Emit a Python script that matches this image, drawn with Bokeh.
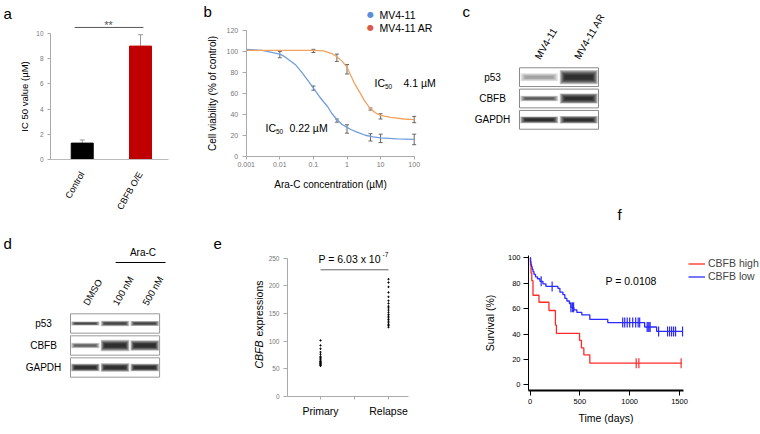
import math
from bokeh.plotting import figure
from bokeh.layouts import row, column
from bokeh.models import (Label, Whisker, TeeHead, ColumnDataSource, FixedTicker,
                          Legend, LegendItem, Range1d)
from bokeh.embed import file_html
from bokeh.resources import INLINE
from bokeh.core.properties import value

FONT = "Liberation Sans"

# ---------------- data ----------------
# a: IC50 bar chart
a_groups = ["Control", "CBFB O/E"]
a_ic50 = [1.3, 9.0]
a_err = [0.25, 0.9]
a_colors = ["#000000", "#c00000"]
a_yticks = [0, 2, 4, 6, 8, 10]

# b: dose response
b_xticks = [0.001, 0.01, 0.1, 1, 10, 100]
b_xtick_labels = ["0.001", "0.01", "0.1", "1", "10", "100"]
b_yticks = [0, 20, 40, 60, 80, 100, 120]
blue_conc = [0.01, 0.1, 0.5, 1, 5, 10, 100]
blue_via = [97, 65, 34, 26, 18, 17, 16]
blue_sd = [3, 2, 1.5, 4, 3.5, 4, 5]
orange_conc = [0.1, 0.5, 1, 5, 10, 100]
orange_via = [100.5, 94, 83, 45, 38, 35]
orange_sd = [1.5, 3.5, 4.5, 1, 2.5, 3]
blue_fit_x = [0.001, 0.003, 0.01, 0.014, 0.03, 0.043, 0.07, 0.1, 0.15, 0.2, 0.27, 0.35, 0.5, 0.7, 1, 1.3, 2, 3.5, 6, 10, 30, 100]
blue_fit_y = [102, 101, 97.5, 95, 87, 81, 72, 65, 57, 52, 47, 41, 35, 30.5, 27.5, 25.5, 23, 20, 18.5, 17.5, 16.5, 16]
orange_fit_x = [0.001, 0.01, 0.1, 0.2, 0.35, 0.5, 0.7, 1, 1.3, 1.7, 2.5, 3.3, 4.3, 5.5, 7, 10, 20, 50, 100]
orange_fit_y = [101, 101, 101, 100.5, 98, 95, 91, 85, 77, 69, 60, 53, 48, 44, 41.5, 39, 37, 35.5, 35]

# c: western blot (band intensity, band thickness per lane)
c_lanes = ["MV4-11", "MV4-11 AR"]
c_rows = ["p53", "CBFB", "GAPDH"]
c_p53 = [0.3, 1.0]
c_cbfb = [0.65, 1.0]
c_gapdh = [1.0, 1.0]
c_p53_w = [0.24, 0.42]
c_cbfb_w = [0.16, 0.3]
c_gapdh_w = [0.2, 0.22]

# d: western blot
d_lanes = ["DMSO", "100 nM", "500 nM"]
d_rows = ["p53", "CBFB", "GAPDH"]
d_p53 = [0.75, 0.8, 0.8]
d_cbfb = [0.6, 1.0, 1.0]
d_gapdh = [1.0, 1.0, 1.0]
d_p53_w = [0.12, 0.15, 0.14]
d_cbfb_w = [0.15, 0.32, 0.3]
d_gapdh_w = [0.22, 0.24, 0.22]

# e: expression
e_groups = ["Primary", "Relapse"]
e_primary = [101, 92, 86, 80, 76, 72, 70, 68, 66, 64, 63, 62, 61, 60, 59, 58, 57, 56, 55]
e_relapse = [212, 206, 198, 188, 180, 173, 168, 163, 160, 156, 152, 148, 145, 142, 139, 136, 133, 130, 128, 125]
e_yticks = [0, 50, 100, 150, 200, 250]

# f: Kaplan-Meier
red_t = [0, 5, 10, 18, 30, 90, 190, 255, 265, 497, 516, 540, 600, 1520]
red_s = [100, 94, 88, 82, 70.5, 65, 58.5, 47, 40.5, 35, 29, 23.5, 17, 17]
red_censor = [1065, 1092, 1516]
blue_t = [0, 5, 10, 15, 22, 30, 40, 55, 75, 100, 130, 160, 280, 300, 330, 350, 370, 395, 410, 440, 470, 520, 600, 780, 1150, 1270, 1530]
blue_s = [100, 97, 95, 93, 91, 89, 87, 85, 83.5, 81.5, 79.5, 77.5, 76, 73, 71, 68, 66, 64, 61, 59, 57, 55, 51.5, 49, 45.5, 42, 42]
blue_censor = [112, 222, 410, 425, 437, 930, 950, 975, 1000, 1030, 1060, 1085, 1100, 1175, 1185, 1195, 1205, 1290, 1380, 1400, 1420, 1440, 1460, 1530]
f_xticks = [0, 500, 1000, 1500]
f_yticks = [0, 20, 40, 60, 80, 100]


# ---------------- helpers ----------------
def make_fig(W, H, xr, yr, **kw):
    p = figure(width=W, height=H, x_range=xr, y_range=yr, toolbar_location=None,
               output_backend="svg", min_border=0, min_border_left=0, min_border_right=0,
               min_border_top=0, min_border_bottom=0, **kw)
    p.outline_line_color = None
    p.grid.visible = False
    p.background_fill_color = "white"
    p.border_fill_color = "white"
    return p


def slabel(p, geo, sx, sy, text, size, color="black", align="left", baseline="middle",
           angle=0.0, font=FONT, style="normal"):
    X0, Y0, W, H = geo
    p.add_layout(Label(x=sx - X0, y=(Y0 + H) - sy, x_units="screen", y_units="screen", text=text,
                       text_font=font, text_font_size=f"{size}px", text_color=color,
                       text_align=align, text_baseline=baseline, angle=angle,
                       text_font_style=style))


def style_axis(ax, line="#aaaaaa", label_color="#777777", size=7, out=3, standoff=3):
    ax.axis_line_color = line
    ax.major_tick_line_color = line
    ax.minor_tick_line_color = None
    ax.major_tick_out = out
    ax.major_tick_in = 0
    ax.major_label_text_font = FONT
    ax.major_label_text_font_size = f"{size}px"
    ax.major_label_text_color = label_color
    ax.major_label_standoff = standoff
    ax.axis_label_text_font = FONT
    ax.axis_label_text_font_style = "normal"
    ax.axis_label_text_color = "black"


def step_at(ts, ss, t):
    v = ss[0]
    for ti, si in zip(ts, ss):
        if ti <= t:
            v = si
    return v


# ---------------- panel a ----------------
geo_a = (0, 0, 190, 225)
ax0 = -0.044
pa = make_fig(190, 225, Range1d(ax0 - 50 / 58.3, ax0 + 140 / 58.3), Range1d(-66 / 12.6, 159 / 12.6))
xa = [i + 0.5 for i in range(len(a_groups))]
pa.vbar(x=xa, top=a_ic50, width=0.377, fill_color=a_colors, line_color=a_colors)
src_a = ColumnDataSource(dict(x=xa, lo=a_ic50, hi=[v + e for v, e in zip(a_ic50, a_err)]))
pa.add_layout(Whisker(source=src_a, base="x", lower="lo", upper="hi", line_color="#999999",
                      lower_head=None, upper_head=TeeHead(size=5, line_color="#999999")))
pa.line([0.37, 1.55], [10.48, 10.48], line_color="#555555", line_width=1)
style_axis(pa.yaxis[0], size=6.5, out=3, standoff=4)
pa.yaxis.ticker = FixedTicker(ticks=a_yticks)
pa.yaxis.bounds = (0, 10)
pa.yaxis.fixed_location = ax0
pa.yaxis.axis_label = "IC 50 value (µM)"
pa.yaxis.axis_label_text_font_size = "9.5px"
pa.yaxis.axis_label_standoff = 3
style_axis(pa.xaxis[0], line="#bbbbbb", label_color="black", size=9, out=0, standoff=13)
pa.xaxis.major_tick_line_color = None
pa.xaxis.ticker = FixedTicker(ticks=xa)
pa.xaxis.bounds = (ax0, ax0 + 118 / 58.3)
pa.xaxis.fixed_location = 0
pa.xaxis.major_label_overrides = {x: g for x, g in zip(xa, a_groups)}
pa.xaxis.major_label_orientation = math.pi / 3
slabel(pa, geo_a, 3, 13, "a", 15)
slabel(pa, geo_a, 108, 24, "**", 11, color="#555555", align="center")

# ---------------- panel b ----------------
geo_b = (190, 0, 250, 225)
bx0 = 245.7
bpd = 33.6
bpy = 125.7 / 120
pb = make_fig(250, 225, Range1d(10 ** (-3 - (bx0 - 190) / bpd), 10 ** (-3 + (440 - bx0) / bpd)),
              Range1d(-(225 - 155.7) / bpy, 155.7 / bpy), x_axis_type="log")
pb.line(blue_fit_x, blue_fit_y, line_color="#6f9edb", line_width=1.3)
pb.line(orange_fit_x, orange_fit_y, line_color="#f2a25e", line_width=1.3)
for xs, ys, es in ((blue_conc, blue_via, blue_sd), (orange_conc, orange_via, orange_sd)):
    s = ColumnDataSource(dict(x=xs, lo=[y - e for y, e in zip(ys, es)], hi=[y + e for y, e in zip(ys, es)]))
    pb.add_layout(Whisker(source=s, base="x", lower="lo", upper="hi", line_color="#666666", line_width=1,
                          lower_head=TeeHead(size=4, line_color="#666666"),
                          upper_head=TeeHead(size=4, line_color="#666666")))
style_axis(pb.xaxis[0], size=7, out=3, standoff=3)
pb.xaxis.ticker = FixedTicker(ticks=b_xticks)
pb.xaxis.major_label_overrides = {t: l for t, l in zip(b_xticks, b_xtick_labels)}
pb.xaxis.bounds = (b_xticks[0], b_xticks[-1])
pb.xaxis.fixed_location = 0
pb.xaxis.axis_label = "Ara-C concentration (µM)"
pb.xaxis.axis_label_text_font_size = "10px"
pb.xaxis.axis_label_standoff = 8
style_axis(pb.yaxis[0], size=7, out=4, standoff=4)
pb.yaxis.ticker = FixedTicker(ticks=b_yticks)
pb.yaxis.bounds = (0, 120)
pb.yaxis.fixed_location = b_xticks[0]
pb.yaxis.axis_label = "Cell viability (% of control)"
pb.yaxis.axis_label_text_font_size = "10px"
pb.yaxis.axis_label_standoff = 6
slabel(pb, geo_b, 203, 11, "b", 15)
slabel(pb, geo_b, 370, 14, "●", 8, color="#5b8ed6", align="center", font="DejaVu Sans")
slabel(pb, geo_b, 370, 27, "●", 8, color="#d9594c", align="center", font="DejaVu Sans")
slabel(pb, geo_b, 379, 14, "MV4-11", 10.5)
slabel(pb, geo_b, 379, 27, "MV4-11 AR", 10.5)
slabel(pb, geo_b, 374, 82, "IC", 10.5)
slabel(pb, geo_b, 384.5, 86, "50", 6.5)
slabel(pb, geo_b, 403, 82, "4.1 µM", 10.5)
slabel(pb, geo_b, 265, 127, "IC", 10.5)
slabel(pb, geo_b, 275.5, 131, "50", 6.5)
slabel(pb, geo_b, 289, 127, "0.22 µM", 10.5)


# ---------------- blots ----------------
def draw_blot(p, n_lanes, rows_int, rows_w, row_h=0.88, line_color="#8a8a8a"):
    n_rows = len(rows_int)
    nl = 6
    for i in range(n_rows):
        yc = n_rows - 0.5 - i
        p.rect(x=n_lanes / 2, y=yc, width=n_lanes, height=row_h, fill_color="white",
               line_color=line_color, line_width=1)
        for l in range(n_lanes):
            I = rows_int[i][l]
            t = rows_w[i][l]
            ws = [0.96 - 0.05 * k for k in range(nl)]
            hs = [t * (1.6 - 0.22 * k) for k in range(nl)]
            al = [0.24 * I] * nl
            p.rect(x=[l + 0.5] * nl, y=[yc] * nl, width=ws, height=hs, fill_color="black",
                   fill_alpha=al, line_color=None)


# panel c
geo_c = (440, 0, 320, 225)
c_lane_px, c_row_px = 39.5, 21.33
pc = make_fig(320, 225, Range1d(-(519 - 440) / c_lane_px, (760 - 519) / c_lane_px),
              Range1d(-(225 - 130) / c_row_px, 130 / c_row_px),
              x_axis_location=None, y_axis_location=None)
draw_blot(pc, len(c_lanes), [c_p53, c_cbfb, c_gapdh], [c_p53_w, c_cbfb_w, c_gapdh_w])
pc.text(x=[-27 / c_lane_px] * 3, y=[len(c_rows) - 0.5 - i for i in range(len(c_rows))], text=c_rows,
        text_font=value(FONT), text_font_size="10px", text_align="center", text_baseline="middle",
        text_color="black")
pc.text(x=[i + 0.5 - 2 / c_lane_px for i in range(len(c_lanes))], y=[3 + 8 / c_row_px] * len(c_lanes),
        text=c_lanes, angle=math.pi / 3, text_font=value(FONT), text_font_size="10px",
        text_align="left", text_baseline="alphabetic", text_color="black")
slabel(pc, geo_c, 462, 11, "c", 15)
slabel(pc, geo_c, 617, 214, "f", 15)

# panel d
geo_d = (0, 225, 190, 209)
d_lane_px, d_row_px = 29.7, 22.0
pd_ = make_fig(190, 209, Range1d(-70 / d_lane_px, 120 / d_lane_px),
               Range1d(-(434 - 378) / d_row_px, 3 + (312 - 225) / d_row_px),
               x_axis_location=None, y_axis_location=None)
draw_blot(pd_, len(d_lanes), [d_p53, d_cbfb, d_gapdh], [d_p53_w, d_cbfb_w, d_gapdh_w], line_color="#999999")
pd_.text(x=[-27 / d_lane_px] * 3, y=[len(d_rows) - 0.5 - i for i in range(len(d_rows))], text=d_rows,
         text_font=value(FONT), text_font_size="10px", text_align="center", text_baseline="middle",
         text_color="black")
pd_.text(x=[i + 0.5 for i in range(len(d_lanes))], y=[3 + 8 / d_row_px] * len(d_lanes),
         text=d_lanes, angle=math.pi / 3, text_font=value(FONT), text_font_size="9.5px",
         text_align="left", text_baseline="alphabetic", text_color="black")
pd_.line([1.52, 3.2], [3 + 50 / d_row_px] * 2, line_color="black", line_width=1)
pd_.text(x=[2.44], y=[3 + 60 / d_row_px], text=["Ara-C"], text_font=value(FONT), text_font_size="10px",
         text_align="center", text_baseline="middle", text_color="black")
slabel(pd_, geo_d, 3, 243, "d", 15)

# ---------------- panel e ----------------
geo_e = (190, 225, 270, 209)
e_px = 68.0
e_py = 0.552
ex0 = 0.5 - 33 / e_px
pe = make_fig(270, 209, Range1d(0.5 - 130 / e_px, 0.5 + 140 / e_px),
              Range1d(-(434 - 395.7) / e_py, (395.7 - 225) / e_py))
xe = [i + 0.5 for i in range(len(e_groups))]
pe.scatter(x=[xe[0]] * len(e_primary), y=e_primary, size=1.3, color="black", marker="circle")
pe.scatter(x=[xe[1]] * len(e_relapse), y=e_relapse, size=1.3, color="black", marker="circle")
pe.line(xe, [229, 229], line_color="#666666", line_width=1)
style_axis(pe.yaxis[0], size=6.5, out=4, standoff=4)
pe.yaxis.ticker = FixedTicker(ticks=e_yticks)
pe.yaxis.bounds = (0, 250)
pe.yaxis.fixed_location = ex0
style_axis(pe.xaxis[0], label_color="black", size=10.5, out=3, standoff=6)
pe.xaxis.ticker = FixedTicker(ticks=xe, minor_ticks=[1.0])
pe.xaxis.minor_tick_line_color = "#aaaaaa"
pe.xaxis.minor_tick_out = 3
pe.xaxis.minor_tick_in = 0
pe.xaxis.bounds = (ex0, ex0 + 121 / e_px)
pe.xaxis.fixed_location = 0
pe.xaxis.major_label_overrides = {x: g for x, g in zip(xe, e_groups)}
slabel(pe, geo_e, 213, 243, "e", 15)
slabel(pe, geo_e, 258, 368, "CBFB", 10.5, angle=math.pi / 2, style="italic")
slabel(pe, geo_e, 258, 336, "expressions", 10.5, angle=math.pi / 2)
slabel(pe, geo_e, 318, 258, "P = 6.03 x 10", 10.5)
slabel(pe, geo_e, 382, 254, "-7", 6.5)

# ---------------- panel f ----------------
geo_f = (460, 225, 300, 209)
f_px = 0.0997
f_py = 1.27
pf = make_fig(300, 209, Range1d(-(529.5 - 460) / f_px, (760 - 529.5) / f_px),
              Range1d(-(434 - 384.3) / f_py, (384.3 - 225) / f_py))
r_red = pf.step(x=red_t, y=red_s, mode="after", line_color="#ff2b2b", line_width=1.3)
r_blue = pf.step(x=blue_t, y=blue_s, mode="after", line_color="#2b2bff", line_width=1.3)
pf.scatter(x=red_censor, y=[step_at(red_t, red_s, t) for t in red_censor], marker="dash",
           angle=math.pi / 2, size=10, line_color="#ff2b2b", line_width=1.2)
pf.scatter(x=blue_censor, y=[step_at(blue_t, blue_s, t) for t in blue_censor], marker="dash",
           angle=math.pi / 2, size=10, line_color="#2b2bff", line_width=1.2)
style_axis(pf.yaxis[0], line="black", label_color="black", size=7.5, out=5, standoff=3)
pf.yaxis.ticker = FixedTicker(ticks=f_yticks)
pf.yaxis.bounds = (-4.5, 102)
pf.yaxis.fixed_location = -15
pf.yaxis.axis_label = "Survival (%)"
pf.yaxis.axis_label_text_font_size = "10.5px"
pf.yaxis.axis_label_standoff = 9
style_axis(pf.xaxis[0], line="black", label_color="black", size=7.5, out=5, standoff=3)
pf.xaxis.axis_line_width = 1.8
pf.xaxis.ticker = FixedTicker(ticks=f_xticks)
pf.xaxis.bounds = (-15, 1540)
pf.xaxis.fixed_location = -4.5
pf.xaxis.axis_label = "Time (days)"
pf.xaxis.axis_label_text_font_size = "10.5px"
pf.xaxis.axis_label_standoff = 5
leg = Legend(items=[LegendItem(label="CBFB high", renderers=[r_red]),
                    LegendItem(label="CBFB low", renderers=[r_blue])],
             location=(688 - 460, 434 - 282.6), padding=0, margin=0, spacing=0, glyph_height=13,
             glyph_width=17, label_height=13, label_standoff=3, label_text_font=FONT,
             label_text_font_size="10.5px", border_line_color=None, background_fill_alpha=0)
pf.add_layout(leg)
slabel(pf, geo_f, 605, 280, "P = 0.0108", 10.5)

layout = column(row(pa, pb, pc), row(pd_, pe, pf))
open("out.html", "w").write(file_html(layout, INLINE))
